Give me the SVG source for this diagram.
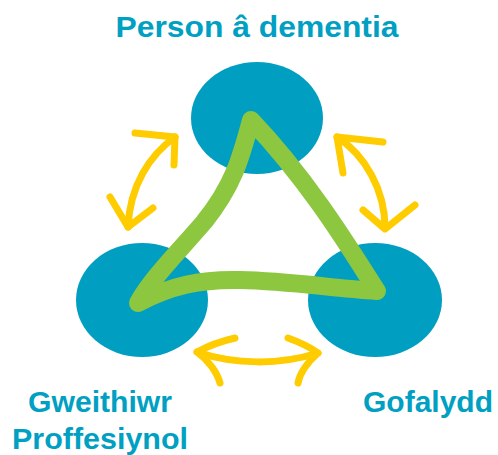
<svg xmlns="http://www.w3.org/2000/svg" width="498" height="455" viewBox="0 0 498 455">
<style>
.node{fill:#009FC2}
.lbl{font-family:"Liberation Sans",Arial,sans-serif;font-weight:bold;font-size:29px;fill:#00A0C3;text-anchor:middle}
.tri{fill:none;stroke:#8DC63F;stroke-width:18;stroke-linecap:round;stroke-linejoin:round}
.arr{fill:none;stroke:#FFCC00;stroke-width:7;stroke-linecap:round;stroke-linejoin:round}
</style>
<rect width="498" height="455" fill="#fff"/>
<g id="node-person">
<ellipse class="node" cx="257" cy="118" rx="66" ry="56"/>
<text class="lbl" x="257" y="37" textLength="283" lengthAdjust="spacingAndGlyphs">Person â dementia</text>
</g>
<g id="node-gweithiwr">
<ellipse class="node" cx="142" cy="300" rx="66" ry="57"/>
<text class="lbl" x="100" y="412" textLength="144" lengthAdjust="spacingAndGlyphs">Gweithiwr</text>
<text class="lbl" x="100" y="449" textLength="176" lengthAdjust="spacingAndGlyphs">Proffesiynol</text>
</g>
<g id="node-gofalydd">
<ellipse class="node" cx="375" cy="300" rx="67" ry="57"/>
<text class="lbl" x="428" y="412" textLength="130" lengthAdjust="spacingAndGlyphs">Gofalydd</text>
</g>
<g id="triangle">
<path class="tri" d="M251 120 C241 158 233 186 204 222 C180 250 150 280 138 303 C170 286 200 279 240 280 C290 281 330 288 377 291 C352 252 310 182 251 120 Z"/>
</g>
<g id="connectors">
<path class="arr" d="M175 137 C150 155 130 185 128 227"/>
<path class="arr" d="M135 133 L175 137 L174 165"/>
<path class="arr" d="M110 197 L128 227 L153 208"/>
<path class="arr" d="M337 137 C365 155 385 190 385 228"/>
<path class="arr" d="M383 142 L337 137 L343 173"/>
<path class="arr" d="M363 210 L385 229 L415 205"/>
<path class="arr" d="M197 352 C235 365 280 365 318 353"/>
<path class="arr" d="M235 338 C222 341 208 346 197 352 C208 360 217 372 220 383"/>
<path class="arr" d="M288 338 C299 342 310 347 318 353 C308 362 300 372 298 383"/>
</g>
</svg>
